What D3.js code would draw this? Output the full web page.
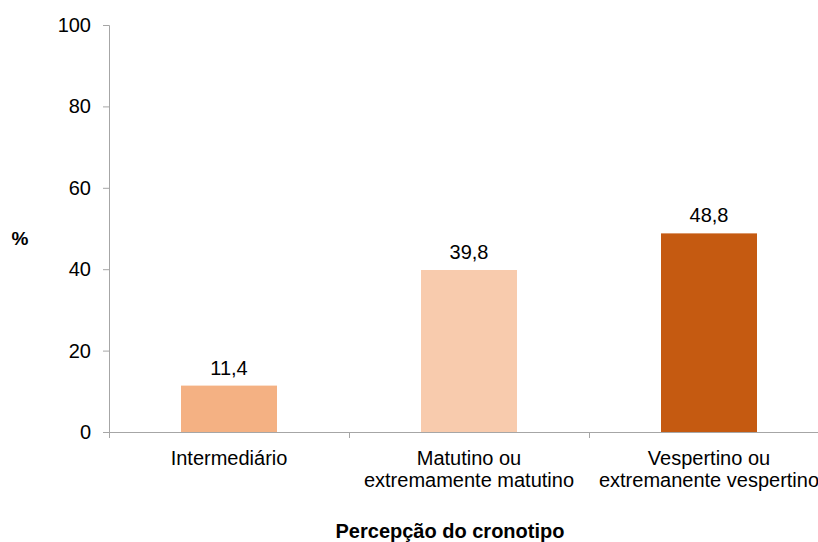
<!DOCTYPE html>
<html>
<head>
<meta charset="utf-8">
<script src="https://cdn.jsdelivr.net/npm/d3@7"></script>
<style>
  html, body { margin: 0; padding: 0; background: #fff; }
  svg { display: block; font-family: "Liberation Sans", Arial, sans-serif; }
</style>
</head>
<body>
<svg id="chart" width="818" height="542"></svg>
<script>
// Perception of chronotype (%)
const categories = [
  ["Intermediário"],
  ["Matutino ou", "extremamente matutino"],
  ["Vespertino ou", "extremanente vespertino"]
];
const values = [11.4, 39.8, 48.8];
const barColors = ["#F4B183", "#F8CBAD", "#C55A11"];
const yTicks = [0, 20, 40, 60, 80, 100];
const yTitle = "%";
const xTitle = "Percepção do cronotipo";

const svg = d3.select("#chart");
const axisColor = "#A6A6A6";
const fontFamily = "Liberation Sans, Arial, sans-serif";
const fs = "20px";

const x = d3.scaleBand()
  .domain(d3.range(categories.length))
  .range([109, 829])
  .paddingInner(0.6)
  .paddingOuter(0.3);

const y = d3.scaleLinear().domain([0, 100]).range([432, 25]);

// y axis
const gy = svg.append("g").attr("transform", "translate(109,0)")
  .call(d3.axisLeft(y).tickValues(yTicks).tickSize(6).tickPadding(12).tickFormat(d3.format("d")));
gy.select(".domain").attr("stroke", axisColor);
gy.selectAll(".tick line").attr("stroke", axisColor);
gy.selectAll(".tick text").attr("fill", "#000").style("font-size", fs)
  .style("font-family", fontFamily);

// x axis baseline with ticks at the category boundaries
const [x0, x1] = x.range();
const edges = d3.range(categories.length + 1).map(i => x0 + i * (x1 - x0) / categories.length);
svg.append("line").attr("x1", x0).attr("x2", x1).attr("y1", y(0) + 0.5).attr("y2", y(0) + 0.5)
  .attr("stroke", axisColor);
svg.selectAll(".xtick").data(edges).enter().append("line")
  .attr("x1", d => d + 0.5).attr("x2", d => d + 0.5)
  .attr("y1", y(0)).attr("y2", y(0) + 6).attr("stroke", axisColor);

// bars
svg.selectAll(".bar").data(values).enter().append("rect")
  .attr("x", (d, i) => x(i))
  .attr("width", x.bandwidth())
  .attr("y", d => y(d))
  .attr("height", d => y(0) - y(d))
  .attr("fill", (d, i) => barColors[i]);

// value labels
svg.selectAll(".val").data(values).enter().append("text")
  .attr("x", (d, i) => x(i) + x.bandwidth() / 2)
  .attr("y", d => y(d) - 11)
  .attr("text-anchor", "middle")
  .style("font-size", fs)
  .text(d => d.toFixed(1).replace(".", ","));

// category labels
categories.forEach((lines, i) => {
  const cx = x(i) + x.bandwidth() / 2;
  const t = svg.append("text").attr("text-anchor", "middle").style("font-size", fs);
  lines.forEach((ln, j) => {
    t.append("tspan").attr("x", cx).attr("y", 465 + j * 21.5).text(ln);
  });
});

// axis titles
svg.append("text").attr("x", 20).attr("y", 245).attr("text-anchor", "middle")
  .style("font-size", "19px").style("font-weight", "bold").text(yTitle);
svg.append("text").attr("x", 450).attr("y", 538).attr("text-anchor", "middle")
  .style("font-size", fs).style("font-weight", "bold").text(xTitle);
</script>
</body>
</html>
